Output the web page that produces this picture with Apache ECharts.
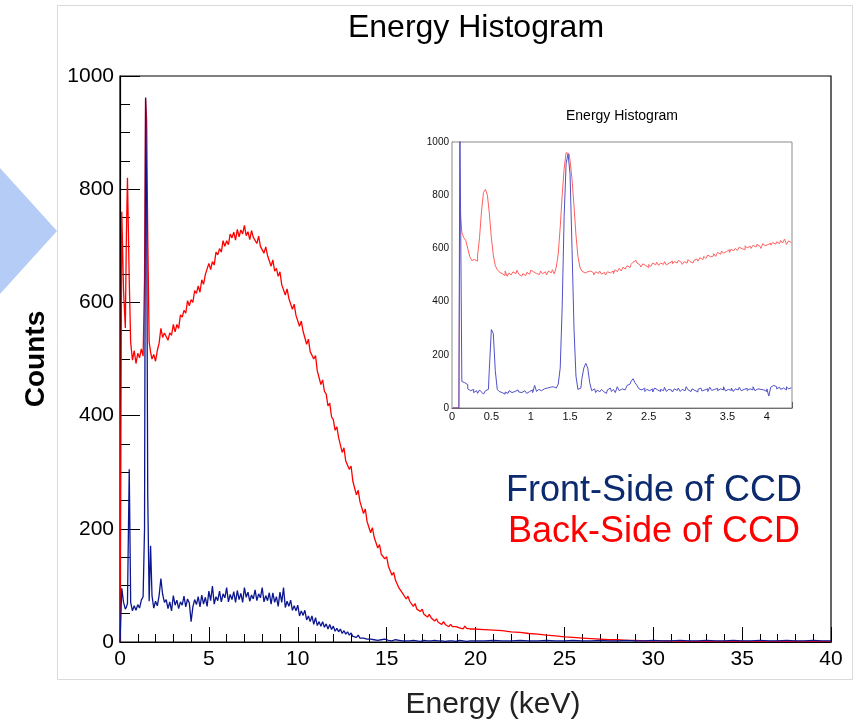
<!DOCTYPE html>
<html>
<head>
<meta charset="utf-8">
<script src="https://cdn.jsdelivr.net/npm/echarts@6/dist/echarts.min.js"></script>
<style>
html, body { margin: 0; padding: 0; background: #fff; }
#chart { width: 859px; height: 724px; }
</style>
</head>
<body>
<div id="chart"></div>
<script>
// main histogram, low energy part (keV, uneven spacing around the peaks)
var lowE = [0, 0.1, 0.2, 0.3, 0.36, 0.42, 0.52, 0.6, 0.7, 0.8,
  0.9, 1.0, 1.1, 1.2, 1.3, 1.38, 1.44, 1.5, 1.56, 1.64,
  1.72, 1.8, 1.9, 2.0, 2.1, 2.2, 2.3, 2.4, 2.5];
var backLow = [0, 760, 620, 555, 720, 820, 640, 530, 498, 515,
  492, 510, 502, 518, 505, 640, 960, 920, 720, 530,
  512, 500, 508, 496, 515, 528, 554, 538, 546];
var frontLow = [0, 95, 70, 58, 62, 68, 305, 70, 55, 64,
  56, 66, 60, 74, 80, 200, 962, 780, 260, 72,
  170, 82, 60, 72, 64, 82, 112, 84, 70];

// 2.6 .. 20.0 keV, 0.1 keV bins (one row = 1 keV)
var midStart = 2.6, midStep = 0.1;
var backMid = [
  546, 533, 546, 542, 561, 548, 561, 554, 578, 574,
  586, 581, 603, 594, 605, 600, 621, 616, 629, 618,
  640, 632, 649, 648, 669, 658, 672, 666, 689, 684,
  695, 689, 709, 699, 709, 702, 721, 714, 724, 710,
  729, 716, 728, 721, 736, 718, 725, 711, 727, 715,
  718, 704, 717, 699, 701, 687, 698, 683, 686, 664,
  675, 655, 660, 646, 654, 631, 632, 613, 624, 607,
  606, 588, 597, 577, 576, 558, 567, 549, 550, 526,
  535, 513, 516, 500, 506, 479, 477, 455, 463, 443,
  438, 417, 422, 398, 393, 374, 380, 361, 360, 335,
  343, 320, 321, 305, 311, 284, 282, 260, 268, 248,
  246, 227, 235, 213, 211, 193, 202, 185, 186, 166,
  172, 155, 158, 147, 151, 134, 133, 118, 123, 109,
  108, 95, 98, 86, 86, 76, 81, 72, 74, 63,
  68, 58, 61, 54, 58, 49, 51, 44, 49, 43,
  44, 37, 41, 35, 36, 31, 36, 31, 33, 27,
  31, 27, 29, 27, 30, 25, 27, 23, 28, 24,
  27, 23, 26, 23, 25];
var frontMid = [
  75, 59, 71, 55, 82, 65, 74, 59, 71, 65,
  81, 62, 76, 69, 36, 62, 75, 66, 80, 62,
  83, 67, 79, 63, 90, 73, 99, 67, 80, 73,
  90, 71, 85, 78, 96, 71, 84, 75, 89, 70,
  91, 75, 86, 70, 96, 79, 88, 72, 83, 76,
  92, 73, 85, 78, 96, 71, 82, 73, 87, 67,
  87, 70, 80, 63, 88, 70, 96, 61, 72, 63,
  74, 56, 64, 55, 65, 46, 55, 47, 56, 39,
  46, 36, 46, 31, 43, 29, 36, 28, 36, 26,
  32, 23, 31, 22, 28, 19, 24, 18, 23, 15,
  20, 14, 18, 12, 16, 10, 13, 8, 12, 7,
  10, 7, 9, 5, 8, 5, 6, 4, 7, 3,
  5, 4, 3, 5, 4, 3, 4, 2, 3, 4,
  2, 3, 3, 2, 4, 2, 3, 2, 1, 3,
  2, 2, 3, 1, 2, 3, 2, 2, 3, 2,
  1, 3, 2, 2, 3, 2, 2, 1, 3, 2,
  3, 2, 2, 1, 2, 3, 2, 2, 3, 1,
  2, 2, 3, 2, 2];

// 20.5 .. 40 keV, 0.5 keV bins
var tailStart = 20.5, tailStep = 0.5;
var backTail = [22, 21, 20, 18, 17, 15, 14, 12, 11, 9,
  8, 7, 6, 5, 4, 4, 3, 3, 2, 2,
  2, 2, 1, 1, 1, 1, 1, 1, 1, 1,
  1, 1, 1, 1, 1, 1, 1, 1, 1, 1];
var frontTail = [2, 3, 2, 2, 3, 2, 2, 3, 2, 2,
  3, 2, 2, 3, 2, 2, 3, 2, 2, 3,
  2, 2, 3, 2, 2, 3, 2, 2, 3, 2,
  2, 3, 2, 2, 3, 2, 2, 3, 2, 2];

// inset: 0 .. 4.325 keV, 0.025 keV bins
var insetStep = 0.025;
var insetBack = [0, 0, 0, 0, 760, 660, 640, 630, 600, 570,
  555, 558, 552, 575, 640, 740, 810, 822, 800, 730,
  640, 575, 535, 520, 512, 505, 498, 515, 495, 508,
  500, 512, 505, 518, 502, 496, 505, 498, 510, 503,
  518, 512, 505, 510, 502, 515, 505, 512, 500, 515,
  508, 520, 504, 530, 580, 680, 800, 900, 960, 955,
  930, 860, 760, 650, 570, 530, 515, 508, 512, 505,
  515, 508, 500, 512, 506, 515, 503, 510, 500, 512,
  508, 515, 505, 520, 512, 525, 515, 530, 522, 535,
  528, 540, 548, 555, 545, 538, 530, 542, 535, 528,
  540, 532, 545, 538, 548, 536, 545, 540, 550, 538,
  545, 552, 542, 550, 545, 555, 548, 540, 550, 545,
  558, 550, 545, 555, 560, 552, 565, 558, 570, 562,
  575, 568, 572, 580, 570, 585, 578, 590, 582, 588,
  595, 585, 598, 590, 600, 592, 605, 598, 596, 610,
  602, 608, 600, 612, 605, 615, 608, 600, 618, 610,
  614, 620, 612, 622, 616, 625, 618, 630, 620, 635,
  615, 628, 622];
var insetFront = [0, 0, 0, 0, 1100, 100, 95, 88, 72, 65,
  70, 58, 65, 55, 68, 60, 52, 65, 70, 150,
  295, 280, 140, 70, 62, 58, 52, 60, 55, 65,
  58, 62, 55, 68, 60, 58, 65, 60, 55, 62,
  68, 58, 85, 62, 70, 65, 72, 68, 75, 78,
  72, 80, 75, 82, 90, 150, 380, 720, 920, 955,
  880, 600, 300, 120, 70, 75, 110, 150, 168, 150,
  95, 65, 72, 58, 68, 60, 70, 62, 55, 68,
  75, 62, 70, 58, 80, 65, 72, 68, 75, 85,
  90, 100, 110, 95, 85, 72, 68, 75, 62, 70,
  65, 72, 60, 75, 68, 62, 70, 65, 78, 62,
  70, 68, 60, 72, 66, 75, 62, 70, 65, 80,
  68, 62, 72, 66, 60, 70, 75, 64, 68, 72,
  62, 78, 66, 70, 74, 65, 72, 68, 80, 64,
  70, 66, 75, 62, 72, 68, 78, 65, 70, 74,
  66, 72, 68, 80, 65, 72, 70, 75, 68, 62,
  72, 45, 78, 85, 80, 72, 78, 70, 75, 68,
  80, 72, 76];

function joinParts(low, mid, tail) {
  var out = lowE.map(function (e, i) { return [e, low[i]]; });
  mid.forEach(function (v, i) { out.push([+(midStart + i * midStep).toFixed(2), v]); });
  tail.forEach(function (v, i) { out.push([+(tailStart + i * tailStep).toFixed(2), v]); });
  return out;
}
function insetPairs(arr) {
  return arr.map(function (v, i) { return [+(insetStep * i + insetStep / 2).toFixed(4), v]; });
}
function plain(v) { return String(v); }

var FONT = '"Liberation Sans", Arial, Helvetica, sans-serif';
var chart = echarts.init(document.getElementById("chart"), null, { renderer: "canvas" });

var option = {
  animation: false,
  backgroundColor: "#fff",
  textStyle: { fontFamily: FONT },
  grid: [
    { left: 120, top: 76, width: 711, height: 566, show: true, borderColor: "#000", borderWidth: 1.2, backgroundColor: "transparent" },
    { left: 452, top: 142, width: 340, height: 266, show: true, borderColor: "#8a8a8a", borderWidth: 1, backgroundColor: "#fff", z: 3 }
  ],
  xAxis: [
    {
      type: "value", gridIndex: 0, min: 0, max: 40, interval: 5,
      axisLine: { lineStyle: { color: "#000", width: 1.2 } },
      axisTick: { inside: true, length: 15, lineStyle: { color: "#000" } },
      minorTick: { show: true, splitNumber: 5, length: 8, lineStyle: { color: "#000" } },
      splitLine: { show: false },
      axisLabel: { fontSize: 21, color: "#000", margin: 7, fontFamily: FONT }
    },
    {
      type: "value", gridIndex: 1, min: 0, max: 4.32, interval: 0.5,
      axisLine: { lineStyle: { color: "#555", width: 1 } },
      axisTick: { inside: true, length: 6, lineStyle: { color: "#333" } },
      minorTick: { show: true, splitNumber: 5, length: 3, lineStyle: { color: "#333" } },
      splitLine: { show: false },
      axisLabel: { fontSize: 11, color: "#111", margin: 3, showMaxLabel: false, fontFamily: FONT }
    }
  ],
  yAxis: [
    {
      type: "value", gridIndex: 0, min: 0, max: 1000, interval: 200,
      axisLine: { show: true, lineStyle: { color: "#000", width: 1.2 } },
      axisTick: { show: true, inside: true, length: 20, lineStyle: { color: "#000" } },
      minorTick: { show: true, splitNumber: 4, length: 10, lineStyle: { color: "#000" } },
      splitLine: { show: false },
      axisLabel: { fontSize: 21, color: "#000", margin: 6, fontFamily: FONT, formatter: plain },
      name: "Counts", nameLocation: "middle", nameGap: 70,
      nameTextStyle: { fontSize: 28, fontWeight: "bold", color: "#000", fontFamily: FONT }
    },
    {
      type: "value", gridIndex: 1, min: 0, max: 1000, interval: 200,
      axisLine: { show: true, lineStyle: { color: "#555", width: 1 } },
      axisTick: { show: true, inside: true, length: 8, lineStyle: { color: "#333" } },
      minorTick: { show: true, splitNumber: 4, length: 4, lineStyle: { color: "#333" } },
      splitLine: { show: false },
      axisLabel: { fontSize: 10, color: "#111", margin: 3, fontFamily: FONT, formatter: plain }
    }
  ],
  series: [
    {
      name: "Back-Side of CCD", type: "line", xAxisIndex: 0, yAxisIndex: 0,
      data: joinParts(backLow, backMid, backTail),
      showSymbol: false, sampling: "none", z: 2,
      lineStyle: { color: "#ff0000", width: 1.3 }
    },
    {
      name: "Front-Side of CCD", type: "line", xAxisIndex: 0, yAxisIndex: 0,
      data: joinParts(frontLow, frontMid, frontTail),
      showSymbol: false, sampling: "none", z: 3,
      lineStyle: { color: "#0c1690", width: 1.3 }
    },
    {
      type: "line", xAxisIndex: 1, yAxisIndex: 1, step: "middle",
      data: insetPairs(insetBack), showSymbol: false, z: 4,
      lineStyle: { color: "#ff6060", width: 1 }
    },
    {
      type: "line", xAxisIndex: 1, yAxisIndex: 1, step: "middle",
      data: insetPairs(insetFront), showSymbol: false, z: 5,
      lineStyle: { color: "#5050c8", width: 1 }
    }
  ],
  graphic: [
    { type: "polygon", z: -5, shape: { points: [[0, 168], [57, 231], [0, 294]] }, style: { fill: "#b5cdf6" } },
    { type: "rect", z: -5, shape: { x: 57.5, y: 5.5, width: 795, height: 674 }, style: { fill: null, stroke: "#dadada", lineWidth: 1 } },
    { type: "text", x: 476, y: 28, style: { text: "Energy Histogram", fill: "#000", font: "32px " + FONT, align: "center", verticalAlign: "middle" } },
    { type: "text", x: 622, y: 116, style: { text: "Energy Histogram", fill: "#000", font: "14px " + FONT, align: "center", verticalAlign: "middle" } },
    { type: "text", x: 493, y: 705, style: { text: "Energy (keV)", fill: "#222", font: "30px " + FONT, align: "center", verticalAlign: "middle" } },
    { type: "text", x: 802, y: 491, style: { text: "Front-Side of CCD", fill: "#0c2a6e", font: "36px " + FONT, align: "right", verticalAlign: "middle" } },
    { type: "text", x: 800, y: 532, style: { text: "Back-Side of CCD", fill: "#ff0000", font: "36px " + FONT, align: "right", verticalAlign: "middle" } }
  ]
};
chart.setOption(option);
</script>
</body>
</html>
